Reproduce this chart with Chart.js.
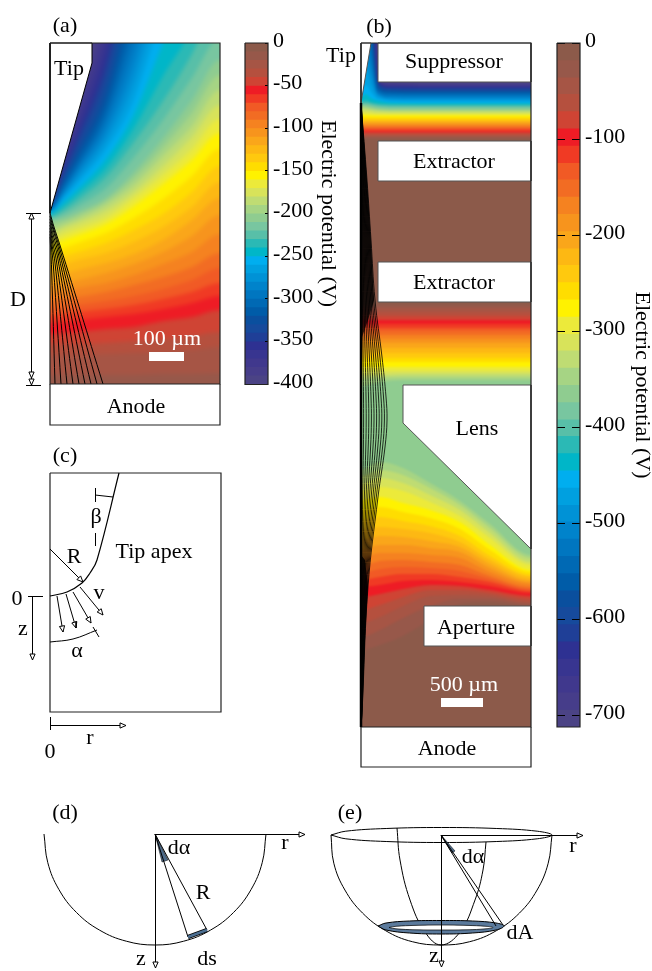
<!DOCTYPE html>
<html>
<head>
<meta charset="utf-8">
<title>Electric potential</title>
<script src="https://cdn.jsdelivr.net/npm/chart.js@4"></script>
<style>
html, body { margin: 0; background: #fff; }
#page { position: relative; width: 652px; height: 971px; overflow: hidden; }
#page canvas { position: absolute; }
.field { position: absolute; overflow: hidden; }
.lab { position: absolute; transform: translate(-50%, -50%); font: 22px "Liberation Serif", serif; white-space: nowrap; color: #000; }
</style>
</head>
<body>
<div id="page"></div>
<script>
// colour steps of the potential colour bar, top (0 V) to bottom
const colorSteps = [
  '#8c5a4a','#97584a','#a65545','#b5503e','#cf4434','#ee1c25','#f03a24','#f15a25','#f26c23','#f58220',
  '#f7941d','#faa61a','#fdb813','#ffc90e','#ffdd00','#fff200','#ecea3a','#d8e35a','#bfdc73','#a6d484',
  '#8fcc90','#78c6a0','#58bfa8','#2bb9b5','#00b6c8','#00aeef','#00a0e0','#0092d6','#0083cb','#0076c0',
  '#0069b4','#005ca8','#0a4f9e','#164a9c','#1f3f97','#2e3192','#383590','#40388d','#463d8a','#4b4385'];

const barLevelsA = [0,-10,-20,-30,-40,-50,-60,-70,-80,-90,-100,-110,-120,-130,-140,-150,-160,-170,-180,-190,
  -200,-210,-220,-230,-240,-250,-260,-270,-280,-290,-300,-310,-320,-330,-340,-350,-360,-370,-380,-390];
const barTicksA = [0,-50,-100,-150,-200,-250,-300,-350,-400];
const barLevelsB = [0,-18,-36,-53,-71,-89,-107,-125,-142,-160,-178,-196,-214,-231,-249,-267,-285,-303,-320,-338,
  -356,-374,-392,-409,-427,-445,-463,-481,-498,-516,-534,-552,-570,-587,-605,-623,-641,-659,-676,-694];
const barTicksB = [0,-100,-200,-300,-400,-500,-600,-700];

// panel (a): height of each iso-potential line at these columns, one row per colour step from step 1
const fieldAx = [50,64,78,106,134,163,192,220];
const fieldArows = [
  [375,375,375,375,375,374,374,373],[355,355,355,354,353,352,350,347],[344,344,344,343,341,339,336,332],
  [334,333,332,329,327,321,317,310],[323,322,320,317,314,309,303,296],[316,314,312,309,305,299,292,283],
  [309,307,305,301,296,289,280,268],[301,299,297,292,285,277,267,253],[293,291,288,283,275,264,252,234],
  [285,283,280,273,264,252,236,215],[276,274,270,263,254,240,220,198],[267,264,260,253,242,227,207,182],
  [259,256,252,243,230,214,192,166],[252,248,243,233,218,199,176,149],[245,240,235,224,206,184,160,133],
  [240,234,229,218,198,175,149,119],[235,228,223,211,192,166,137,105],[230,225,219,205,185,156,126,90],
  [225,221,215,201,178,147,113,75],[220,218,212,198,172,138,100,60],[218,214,206,188,157,120,78,38],
  [217,210,200,177,142,101,54,0],[215,206,194,168,128,76,28,-45],[213,202,189,159,114,43,-26,-112],
  [212,198,183,150,100,10,-80,-180],[211,196,179,142,84,-14,-108,-212],[210,193,174,134,68,-38,-136,-244],
  [210,191,170,126,51,-60,-164,-278],[209,188,166,118,33,-80,-192,-314],[208,185,162,110,15,-100,-220,-350],
  [206,181,156,100,-5,-120,-244,-378],[205,178,151,89,-25,-140,-268,-406],[203,174,144,77,-44,-160,-292,-432],
  [201,170,137,64,-62,-180,-316,-456],[200,165,130,50,-80,-200,-340,-480],[198,159,120,34,-96,-220,-364,-508],
  [197,153,110,18,-112,-240,-388,-536],[195,147,100,2,-128,-260,-412,-564],[193,141,90,-14,-144,-280,-436,-592]];

// panel (b), gap below the suppressor, steps 1 to 39
const gapBx = [361,366,371,376,380,390,420,531];
const gapBrows = [
  [138.5,138.5,138.5,138.5,138.5,138.5,138.5,138.5],[137,137,137,137,137,137,137,137],[135.5,135.5,135.5,135.5,135.5,135.5,135.5,135.5],
  [134,134,134,134,134,134,134,134],[132,132,132,132,132,132,132,132],[131,131,131,131,131,131,131,131],
  [129.5,129.5,129.5,129.5,129.5,129.5,129.5,129.5],[128,128,128,128,128,128,128,128],[126.5,126.5,126.5,126.5,126.5,126.5,126.5,126.5],
  [125,125,125,125,125,125,125,125],[123.5,123.5,123.5,123.5,123.5,123.5,123.5,123.5],[122,122,122,122,122,122,122,122],
  [120.5,120.5,120.5,120.5,120.5,120.5,120.5,120.5],[119,119,119,119,119,119,119,119],[117,117,117,117,117,117,117,117],
  [115,115,115.5,115.5,115.5,115.5,115.5,115.5],[113,113,113.5,114,114,114,114,114],[110,110.5,111,112,112,112.5,112.5,112.5],
  [108,108.5,109.5,110,110.5,111,111,111],[106,107,108,109,109.5,110,110,110],[105,105.5,106.5,107.5,108,108.5,108.5,108.5],
  [104,104,105,106,106.5,107,107,107],[102.5,102.5,103.5,104.5,105,105.5,105.5,105.5],[101,100,102,103,103.5,104,104.5,104.5],
  [97,94,98,100,101,102.5,103,103],[90,85,92,98,99.5,101,101.5,101.5],[80,70,84,95,97.5,99.5,100,100],
  [70,55,74,92,96,98,98.5,98.5],[60,40,64,90,94.5,96.5,97,97],[50,25,52,88,93,95,95,95],
  [30,5,40,84,91,93,93.5,93.5],[10,-15,28,80,89.5,91.5,92,92],[-10,-35,15,75,88,90,91,91],
  [-30,-55,0,70,86.5,89,89.5,89.5],[-50,-75,-15,62,85,87.5,88,88],[-70,-95,-35,50,84,86.5,87,87],
  [-90,-115,-55,35,83,85.5,86,86],[-110,-135,-75,15,82,84.5,85,85],[-130,-155,-95,-10,80,83,84,84]];

// panel (b), between second extractor and lens, steps 0 to 20
const midBx = [361,380,403,430,531];
const midBrows = [
  [305,305,305,305,305],[308,308,308,308,308],[312,312,312,312,312],[316,316,316,316,316],[320,320,320,320,320],
  [324,324,324,324,324],[328,328,328,328,328],[331,331,331,331,331],[335,335,335,335,335],[339,339,339,339,339],
  [343,343,343,343,343],[348,348,348,348,348],[353,353,353,353,353],[358,358,358,358,358],[362,362,362,362,362],
  [367,367,367,367,367],[371,371,371,371,371],[375,375,374,374,374],[379,378,377,377,377],[386,382,380,380,380],
  [396,388,383,383,383]];

// panel (b), lens to aperture, steps 0 to 20
const lowBx = [361,380,403,430,460,490,531];
const lowBrows = [
  [650,645,636,620,604,602,606],[637,630,618,606,599,599,604],[623,617,606,596,595,596,602],[610,605,597,590,590,593,599],
  [597,594,589,585,586,590,596],[587,585,581,580,582,586,593],[580,577,574,574,577,582,591],[573,569,567,568,571,579,589],
  [566,561,560,562,565,576,587],[558,553,553,555,558,572,584],[550,545,545,548,552,568,582],[540,536,537,541,547,564,580],
  [530,527,529,533,542,560,577],[520,517,521,526,536,556,575],[510,507,512,518,529,550,572],[500,497,503,510,522,545,570],
  [491,487,491,502,516,538,565],[484,478,483,495,510,533,562],[476,470,475,488,505,528,558],[469,462,468,483,501,524,555],
  [462,455,462,478,497,520,552]];

// electron paths
const beamA = [
  [[50,213],[54,227],[59.9,245],[103,384]],[[50,216],[54,230],[59.6,248],[97,384]],[[50,219],[54,233],[59.1,251],[91,384]],
  [[50,222],[53.5,236],[58.4,254],[85,384]],[[50,225],[53,239],[57.5,257],[79,384]],[[50,228],[52.5,242],[56.3,260],[73,384]],
  [[50,231],[52,245],[55,263],[67,384]],[[50,234],[51.5,248],[53.4,266],[61,384]],[[50,237],[50.8,251],[51.6,269],[55,384]]];
const beamBy = [103,180,240,300,357,397,420,447,497,587,713,727];
const beamBx = [
  [361,367,371,375,382,386,387,385,378,368,362,361],[361,366.4,370,373.6,379.9,383.5,384.4,382.6,376.3,367.3,361.9,361],
  [361,365.8,369,372.2,377.8,381,381.8,380.2,374.6,366.6,361.8,361],[361,365.2,368,370.8,375.7,378.5,379.2,377.8,372.9,365.9,361.7,361],
  [361,364.6,367,369.4,373.6,376,376.6,375.4,371.2,365.2,361.6,361],[361,364,366,368,371.5,373.5,374,373,369.5,364.5,361.5,361],
  [361,363.4,365,366.6,369.4,371,371.4,370.6,367.8,363.8,361.4,361],[361,362.8,364,365.2,367.3,368.5,368.8,368.2,366.1,363.1,361.3,361],
  [361,362.2,363,363.8,365.2,366,366.2,365.8,364.4,362.4,361.2,361],[361,361.6,362,362.4,363.1,363.5,363.6,363.4,362.7,361.7,361.1,361]];
const beamCoreTop = [[361,103],[367,180],[371,240],[374,300],[368,320],[361,340],[361,103]];
const beamCoreBottom = [[361,555],[365,560],[368,587],[365,640],[362,713],[361,727],[361,555]];

// white shapes on top of the fields
const tipA = [[50,213],[92,63],[92,43],[50,43],[50,213]];
const tipB = [[361,103],[371,43],[361,43],[361,103]];
const suppressor = [[378,43],[531,43],[531,82],[378,82],[378,43]];
const extractor1 = [[378,141],[531,141],[531,181],[378,181],[378,141]];
const extractor2 = [[378,262],[531,262],[531,302],[378,302],[378,262]];
const lens = [[403,385],[531,385],[531,549],[403,423],[403,385]];
const aperture = [[424,606],[531,606],[531,646],[424,646],[424,606]];

// outlines
const frameA = [[50,43],[220,43],[220,384],[50,384],[50,43]];
const anodeA = [[50,384],[50,425],[220,425],[220,384]];
const frameB = [[361,43],[531,43],[531,727],[361,727],[361,43]];
const anodeB = [[361,727],[361,767],[531,767],[531,727]];
const barFrameA = [[245,43],[268,43],[268,384.5],[245,384.5],[245,43]];
const barFrameB = [[557,43],[580,43],[580,727],[557,727],[557,43]];
const frameC = [[50,473],[221,473],[221,712],[50,712],[50,473]];
const scaleBarA = [[149,356.5],[184,356.5]];
const scaleBarB = [[441,702.5],[483,702.5]];

const tipEdgeC = [[119,473],[97,560],[90,573],[82,583],[67,592],[50,596]];
const arcC = [[50,642],[73,639],[97,630]];
const singleLines = [
  [[26,213.5],[41,213.5]],[[26,385.5],[41,385.5]],[[93,627],[99,637]],[[95.5,488],[95.5,502]],[[95.5,533],[95.5,546]],
  [[95,495],[113,497]],[[28,596.5],[43,596.5]],[[50.5,717],[50.5,730]],
  [[155,834],[188,937]],[[155,834],[207,930]],[[441,835],[503,925]],[[441,835],[496,926]]];
const arrows = [
  [[31.5,220],[31.5,213]],[[31.5,378],[31.5,385]],[[31.5,220],[31.5,378]],
  [[50,549],[83,582]],[[57,596],[63,632]],[[66,594],[76,628]],[[73,592],[91,623]],[[80,587],[103,615]],
  [[32.5,596],[32.5,660]],[[50,725.5],[126,725.5]],
  [[155,834.5],[305,834.5]],[[155.5,834],[155.5,968]],[[441,835.5],[583,835.5]],[[441.5,835],[441.5,967]]];
const semicircleD = [[266,834],[262.2,862.7],[251.1,889.5],[233.5,912.5],[210.5,930.1],[183.7,941.2],[155,945],
  [126.3,941.2],[99.5,930.1],[76.5,912.5],[58.9,889.5],[47.8,862.7],[44,834]];
const wedgeD = [[155,834],[162,862],[168,860],[155,834]];
const stripD = [[188,937],[207,930]];
const semicircleE = [[552,835],[548.2,863.2],[537.1,890],[519.5,913],[496.5,930.6],[469.7,941.7],[441,945],
  [412.3,941.7],[385.5,930.6],[362.5,913],[344.9,890],[333.8,863.2],[331,835]];
const rimE = [[331,835],[345.8,831.2],[386.2,828.5],[441.5,827.5],[496.8,828.5],[537.2,831.2],[552,835],
  [537.2,838.8],[496.8,841.5],[441.5,842.5],[386.2,841.5],[345.8,838.8],[331,835]];
const meridianE = [[397,828],[400,860],[410,900],[425,932],[441,945],[460,932],[475,900],[483,870],[486,842]];
const discE = [[378,926],[386,923],[409.5,921],[441,920.5],[472.5,921],[496,923],[504,926],
  [496,930],[472.5,933],[441,934],[409.5,933],[386,930],[378,926]];
const discHoleE = [[389,927.5],[396,926.3],[415,925.4],[441,925],[467,925.4],[486,926.3],[493,927.5],
  [486,928.8],[467,929.8],[441,930],[415,929.8],[396,928.8],[389,927.5]];
const wedgeE = [[441,835],[452,853],[455,851],[441,835]];

// text on the figure
const labelText = ['(a)','Tip','D','Anode','100 µm','(b)','Tip','Suppressor','Extractor','Extractor','Lens','Aperture','Anode','500 µm',
  '(c)','β','R','Tip apex','v','α','0','z','r','0','(d)','dα','r','R','z','ds','(e)','dα','r','dA','z'];
const labelX = [65,69,18,136,167,379,341,454,454,454,477,476,447,464,
  65,96,74,154,99,77,17,23,90,50,65,179,285,203,141,207,350,473,573,520,434];
const labelY = [25,68,299,406,338,26,55,61,161,282,428,627,748,684,
  455,516,556,551,592,650,598,628,737,751,812,847,842,892,958,958,812,856,845,932,955];
const whiteLabels = ['100 µm','500 µm'];

const SERIF = '"Liberation Serif", serif';
const EDGE = 8;  // fields run this far past the panel so the blur has no pale rim
const page = document.getElementById('page');

function pts(list) {
  return list.map(p => ({x: p[0], y: p[1]}));
}

function band(xs, ys, color, edge) {
  const data = xs.map((x, i) => ({x: x, y: ys[i]}));
  data.unshift({x: xs[0] - EDGE, y: ys[0]});
  data.push({x: xs[xs.length - 1] + EDGE, y: ys[ys.length - 1]});
  return {
    data: data, showLine: true, pointRadius: 0, borderWidth: 0, borderColor: color,
    backgroundColor: color, fill: {value: edge}, cubicInterpolationMode: 'monotone'
  };
}

function shape(list, color, stroke, width, smooth) {
  return {
    data: pts(list), showLine: true, pointRadius: 0,
    borderColor: stroke || color, borderWidth: width === undefined ? 1 : width,
    backgroundColor: color, fill: color ? 'shape' : false, tension: smooth ? 0.4 : 0
  };
}

function stroke(list, color, width, smooth) {
  return {
    data: pts(list), showLine: true, pointRadius: 0, borderColor: color,
    borderWidth: width, fill: false, tension: smooth ? 0.4 : 0, borderCapStyle: 'butt'
  };
}

// open triangle at the end of an arrow
function head(a, b) {
  const dx = b[0] - a[0], dy = b[1] - a[1], n = Math.hypot(dx, dy);
  const ux = dx / n, uy = dy / n, bx = b[0] - ux * 6, by = b[1] - uy * 6;
  return [b, [bx - uy * 2.6, by + ux * 2.6], [bx + uy * 2.6, by - ux * 2.6], b];
}

function addCanvas(left, top, w, h, parent) {
  const c = document.createElement('canvas');
  c.width = w; c.height = h;
  c.style.left = left + 'px'; c.style.top = top + 'px';
  c.style.width = w + 'px'; c.style.height = h + 'px';
  (parent || page).appendChild(c);
  return c;
}

// field canvas overhangs its panel, the wrapper cuts the overhang and the blur off
function fieldCanvas(left, top, w, h, blur) {
  const box = document.createElement('div');
  box.className = 'field';
  box.style.left = left + 'px'; box.style.top = top + 'px';
  box.style.width = w + 'px'; box.style.height = h + 'px';
  page.appendChild(box);
  const c = addCanvas(-EDGE, -EDGE, w + 2 * EDGE, h + 2 * EDGE, box);
  c.style.filter = 'blur(' + blur + 'px)';
  return c;
}

// Chart.js paints the last dataset first, so lists are given bottom layer first and reversed
function plainChart(canvas, layers, xMin, xMax, yTop, yBottom) {
  return new Chart(canvas, {
    type: 'scatter',
    data: {datasets: layers.slice().reverse()},
    options: {
      responsive: false, animation: false, events: [],
      layout: {padding: 0},
      plugins: {legend: {display: false}, tooltip: {enabled: false}},
      scales: {
        x: {type: 'linear', display: false, min: xMin, max: xMax},
        y: {type: 'linear', display: false, min: yTop, max: yBottom, reverse: true}
      }
    }
  });
}

function colorBar(left, top, w, h, levels, ticks, low, dash, dashOffset, axisWidth) {
  const layers = levels.map((v, k) => ({
    data: [{x: 0, y: v}, {x: 1, y: v}], showLine: true, pointRadius: 0, borderWidth: 0,
    backgroundColor: colorSteps[k], fill: {value: low}
  }));
  return new Chart(addCanvas(left, top - 16, w, h + 32), {
    type: 'scatter',
    data: {datasets: layers.reverse()},
    options: {
      responsive: false, animation: false, events: [],
      layout: {padding: {top: 16, bottom: 16}},
      plugins: {legend: {display: false}, tooltip: {enabled: false}},
      scales: {
        x: {type: 'linear', display: false, min: 0, max: 1},
        y: {
          type: 'linear', position: 'right', min: low, max: 0,
          afterBuildTicks: s => { s.ticks = ticks.map(v => ({value: v})); },
          afterFit: s => { s.width = axisWidth; s.paddingTop = 0; s.paddingBottom = 0; },
          border: {display: false, dash: dash, dashOffset: dashOffset},
          grid: {z: 1, color: '#000', lineWidth: 1, drawTicks: false},
          ticks: {color: '#000', font: {family: SERIF, size: 22}, padding: 5, labelOffset: -2, autoSkip: false},
          title: {display: true, text: 'Electric potential (V)', color: '#000', font: {family: SERIF, size: 22}, padding: 0}
        }
      }
    }
  });
}

// panel (a) field
const layersA = [band([50,220], [35,35], colorSteps[39], 392)];
for (let k = 39; k >= 1; k--) layersA.push(band(fieldAx, fieldArows[k - 1], colorSteps[k], 392));
plainChart(fieldCanvas(50, 43, 170, 341, 2), layersA, 42, 228, 35, 392);

// panel (b) field
const layersB = [band([361,531], [35,35], colorSteps[20], 735)];
for (let k = 20; k >= 0; k--) layersB.push(band(lowBx, lowBrows[k], colorSteps[k], 735));
for (let k = 20; k >= 0; k--) layersB.push(band(midBx, midBrows[k], colorSteps[k], 35));
for (let k = 1; k <= 39; k++) layersB.push(band(gapBx, gapBrows[k - 1], colorSteps[k], 35));
plainChart(fieldCanvas(361, 43, 170, 684, 1), layersB, 353, 539, 35, 735);

colorBar(245, 43, 96, 341, barLevelsA, barTicksA, -400, [3,20], 3, 73);
colorBar(557, 43, 98, 684, barLevelsB, barTicksB, -712, [8,7], 0, 75);

// outlines and the sketches
const sketch = [];
sketch.push(shape(tipA, '#fff', '#000', 1));
[tipB, suppressor, extractor1, extractor2, lens, aperture].forEach(s => sketch.push(shape(s, '#fff', '#555', 1)));
sketch.push(stroke(scaleBarA, '#fff', 9));
sketch.push(stroke(scaleBarB, '#fff', 9));
sketch.push(shape(beamCoreTop, 'rgba(0,0,0,0.72)', 'rgba(0,0,0,0)', 0));
sketch.push(shape(beamCoreBottom, 'rgba(0,0,0,0.85)', 'rgba(0,0,0,0)', 0));
beamA.forEach(b => sketch.push(stroke(b, '#000', 1, true)));
beamBx.forEach(xs => sketch.push(stroke(xs.map((x, i) => [x, beamBy[i]]), '#000', 0.8, true)));
[frameA, anodeA, frameB, anodeB, barFrameA, barFrameB].forEach(f => sketch.push(stroke(f, '#222', 1.2)));
sketch.push(stroke([[361,103],[361,727]], '#000', 2.5));
sketch.push(stroke(frameC, '#222', 1.2));
sketch.push(stroke(tipEdgeC, '#000', 1.2, true));
sketch.push(stroke(arcC, '#000', 1, true));
sketch.push(stroke(semicircleD, '#000', 1, true));
sketch.push(stroke(semicircleE, '#000', 1, true));
sketch.push(stroke(rimE, '#000', 1, true));
sketch.push(stroke(meridianE, '#000', 1, true));
sketch.push(shape(discE, '#5b7a9c', '#000', 1, true));
sketch.push(shape(discHoleE, '#fff', '#000', 0.7, true));
sketch.push(shape(wedgeD, '#4e6b8a', '#000', 0.5));
sketch.push(shape(wedgeE, '#4e6b8a', '#000', 0.5));
singleLines.forEach(l => sketch.push(stroke(l, '#000', 1)));
sketch.push(stroke(stripD, '#000', 4));
sketch.push(stroke(stripD, '#4c6f92', 2.4));
arrows.forEach(a => {
  sketch.push(stroke(a, '#000', 1));
  sketch.push(shape(head(a[0], a[1]), '#fff', '#000', 1));
});
plainChart(addCanvas(0, 0, 652, 971), sketch, 0, 652, 0, 971);

labelText.forEach((t, i) => {
  const d = document.createElement('div');
  d.className = 'lab';
  d.textContent = t;
  d.style.left = labelX[i] + 'px';
  d.style.top = labelY[i] + 'px';
  if (whiteLabels.includes(t)) d.style.color = '#fff';
  page.appendChild(d);
});
</script>
</body>
</html>
